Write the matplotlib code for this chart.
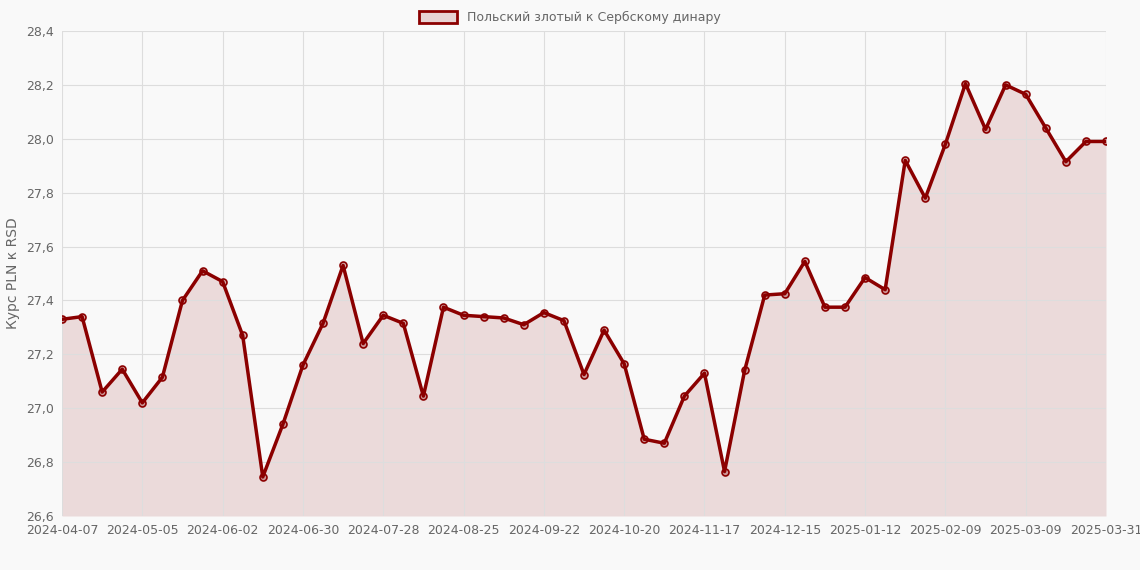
import matplotlib
matplotlib.use("Agg")
import matplotlib.pyplot as plt
from matplotlib.patches import Patch

values = [27.33,27.34,27.06,27.145,27.02,27.115,27.40,27.51,27.47,27.27,26.745,26.94,27.16,27.315,
          27.53,27.24,27.345,27.315,27.045,27.375,27.345,27.34,27.335,27.31,27.355,27.325,27.125,
          27.29,27.165,26.885,26.87,27.045,27.13,26.765,27.14,27.42,27.425,27.545,27.375,27.375,
          27.485,27.44,27.92,27.78,27.98,28.205,28.035,28.20,28.165,28.04,27.915,27.99,27.99]
tick_labels = ["2024-04-07","2024-05-05","2024-06-02","2024-06-30","2024-07-28","2024-08-25",
               "2024-09-22","2024-10-20","2024-11-17","2024-12-15","2025-01-12","2025-02-09",
               "2025-03-09","2025-03-31"]
y_ticks = [26.6,26.8,27.0,27.2,27.4,27.6,27.8,28.0,28.2,28.4]

x = list(range(len(values)))
fig = plt.figure(figsize=(11.4,5.7), dpi=100, facecolor="#f9f9f9")
ax = fig.add_axes([62/1140, 1-516/570, 1044/1140, 485/570])
ax.set_facecolor("#f9f9f9")
col = "#8b0000"
ax.fill_between(x, values, 26.6, color=col, alpha=0.12, lw=0)
ax.plot(x, values, color=col, lw=2.5, marker="o", ms=5, mfc=(0.55,0,0,0.3), mec=col, mew=1.2)
ax.set_xlim(0, len(values)-1)
ax.set_ylim(26.6, 28.4)
ax.set_xticks(list(range(0, len(values), 4)))
ax.set_xticklabels(tick_labels)
ax.set_yticks(y_ticks)
ax.set_yticklabels([f"{v:.1f}".replace(".", ",") for v in y_ticks])
ax.grid(True, color="#dddddd", lw=0.8)
for s in ax.spines.values():
    s.set_visible(False)
ax.tick_params(colors="#666666", labelsize=9, length=0, pad=6)
ax.set_ylabel("Курс PLN к RSD", color="#666666", fontsize=10)
fig.legend(handles=[Patch(facecolor=(0.55,0,0,0.15), edgecolor=col, lw=2)],
           labels=["Польский злотый к Сербскому динару"], loc="upper center",
           bbox_to_anchor=(0.5, 1.0), frameon=False, fontsize=9, labelcolor="#666666",
           handlelength=3, handleheight=1)
fig.savefig("out.png", dpi=100, facecolor=fig.get_facecolor())
